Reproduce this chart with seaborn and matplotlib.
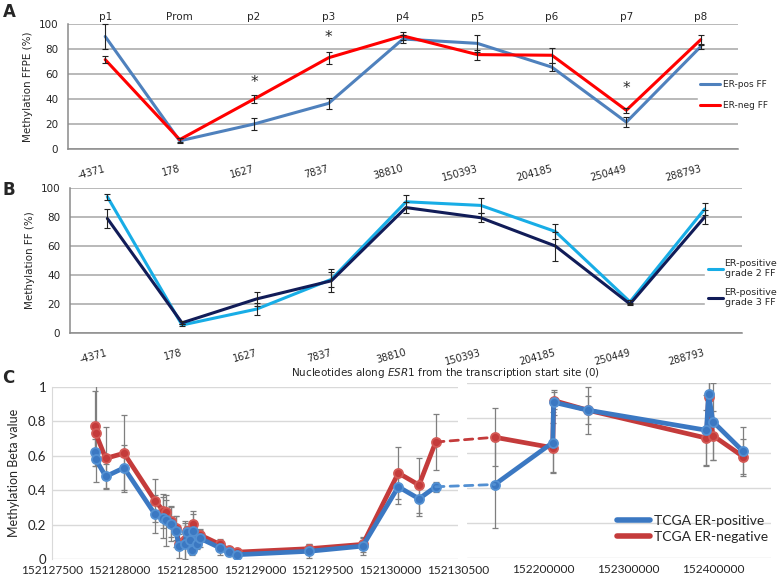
import numpy as np
import matplotlib
matplotlib.use("Agg")
import matplotlib.pyplot as plt
import seaborn as sns
from matplotlib.patches import ConnectionPatch
from matplotlib.lines import Line2D

# ---- panels A and B: CpG sites along ESR1
site_names = ["p1", "Prom", "p2", "p3", "p4", "p5", "p6", "p7", "p8"]
site_pos = ["-4371", "178", "1627", "7837", "38810", "150393", "204185", "250449", "288793"]

ffpe_pos = [90, 6.5, 20, 36.5, 88, 84.5, 65.5, 21.5, 82]
ffpe_pos_err = [10, 2, 5, 4.5, 3, 6.5, 3, 4, 2]
ffpe_neg = [71.5, 7.5, 40, 73, 90.5, 75.5, 75, 31, 87.5]
ffpe_neg_err = [3, 1.5, 3.5, 5, 3, 4, 6, 2, 4]
star_idx = [2, 3, 7]
star_y = [53, 89, 48]

grade2 = [94, 5.5, 16.5, 37, 90.5, 88, 70, 21.5, 85.5]
grade2_err = [2, 1, 4, 5, 4.5, 5, 5.5, 1.5, 4]
grade3 = [79, 7, 23.5, 36, 86.5, 79.5, 60, 20, 80]
grade3_err = [6.5, 1, 5, 8, 4, 3, 10, 1, 4.5]

# ---- panel C: TCGA probes (genomic coordinate)
c_left_x = [152127818, 152127823, 152127897, 152128032, 152128261, 152128322,
            152128342, 152128377, 152128416, 152128438, 152128483, 152128495,
            152128520, 152128532, 152128544, 152128574, 152128594, 152128741,
            152128810, 152128869, 152129401, 152129796, 152130059, 152130212,
            152130335]
c_left_pos = [0.62, 0.58, 0.48, 0.53, 0.26, 0.24, 0.225, 0.205, 0.16, 0.075,
              0.09, 0.155, 0.11, 0.055, 0.16, 0.09, 0.12, 0.065, 0.04, 0.025,
              0.045, 0.075, 0.42, 0.35, 0.42]
c_left_pos_err = [0.08, 0.04, 0.07, 0.13, 0.11, 0.12, 0.15, 0.1, 0.09, 0.07,
                  0.12, 0.03, 0.03, 0.03, 0.1, 0.03, 0.05, 0.04, 0.02, 0.02,
                  0.04, 0.05, 0.1, 0.1, 0.03]
c_left_neg = [0.775, 0.73, 0.585, 0.615, 0.34, 0.28, 0.275, 0.22, 0.18, 0.09,
              0.11, 0.16, 0.12, 0.07, 0.205, 0.1, 0.14, 0.085, 0.05, 0.04,
              0.06, 0.085, 0.5, 0.43, 0.68]
c_left_neg_err = [0.2, 0.28, 0.18, 0.225, 0.125, 0.1, 0.07, 0.09, 0.07, 0.03,
                  0.11, 0.03, 0.03, 0.03, 0.075, 0.03, 0.035, 0.03, 0.02, 0.02,
                  0.03, 0.045, 0.15, 0.16, 0.165]

c_right_x = [152142700, 152211000, 152212000, 152252000, 152392000, 152394500,
             152399500, 152435000]
c_right_pos = [0.42, 0.66, 0.89, 0.845, 0.73, 0.94, 0.78, 0.61]
c_right_pos_err = [0.25, 0.175, 0.07, 0.135, 0.2, 0.08, 0.22, 0.14]
c_right_neg = [0.69, 0.63, 0.9, 0.845, 0.685, 0.92, 0.7, 0.58]
c_right_neg_err = [0.165, 0.14, 0.05, 0.08, 0.16, 0.09, 0.14, 0.1]

left_ticks = [152127500, 152128000, 152128500, 152129000, 152129500, 152130000, 152130500]
right_ticks = [152200000, 152300000, 152400000]
beta_ticks = [0, 0.2, 0.4, 0.6, 0.8, 1]
beta_labels = ["0", "0.2", "0.4", "0.6", "0.8", "1"]

sns.set_style("white")
plt.rcParams["font.family"] = ["DejaVu Sans"]
plt.rcParams["mathtext.fontset"] = "custom"
plt.rcParams["mathtext.it"] = "DejaVu Sans:italic"

W, H = 778, 582
fig = plt.figure(figsize=(W / 100, H / 100), dpi=100)


def box(l, t, r, b):
    return [l / W, 1 - b / H, (r - l) / W, (b - t) / H]


AXIS = "#8a8a8a"
GRID = "#a6a6a6"


def site_axes(ax, ylabel):
    ax.set_xlim(-0.5, 8.5)
    ax.set_ylim(0, 100)
    ax.set_yticks(range(0, 101, 20))
    ax.yaxis.grid(True, color=GRID, lw=1.1)
    ax.set_axisbelow(True)
    for s in ["top", "right"]:
        ax.spines[s].set_visible(False)
    for s in ["left", "bottom"]:
        ax.spines[s].set_color(AXIS)
        ax.spines[s].set_linewidth(1.1)
    ax.set_xticks(range(9))
    ax.set_xticklabels(site_pos, rotation=15, ha="right", va="center",
                       rotation_mode="anchor", fontsize=7)
    ax.set_xticks(np.arange(-0.5, 9, 1), minor=True)
    ax.tick_params(axis="x", which="major", length=0, pad=14)
    ax.tick_params(axis="x", which="minor", length=4, color=AXIS, width=1)
    ax.tick_params(axis="y", length=4, color=AXIS, width=1, labelsize=7.5, pad=3)
    ax.set_ylabel(ylabel, fontsize=7.5, labelpad=4)
    ax.set_xlabel("")


idx = np.arange(len(site_names))

# ---------------- Panel A
axA = fig.add_axes(box(68, 24, 738, 149))
sns.lineplot(x=idx, y=ffpe_pos, ax=axA, color="#4f81bd", lw=2.2, label="ER-pos FF")
sns.lineplot(x=idx, y=ffpe_neg, ax=axA, color="#ff0000", lw=2.2, label="ER-neg FF")
axA.errorbar(idx, ffpe_pos, yerr=ffpe_pos_err, fmt="none", ecolor="#222222",
             elinewidth=0.8, capsize=2.5, capthick=0.8, clip_on=False)
axA.errorbar(idx, ffpe_neg, yerr=ffpe_neg_err, fmt="none", ecolor="#222222",
             elinewidth=0.8, capsize=2.5, capthick=0.8, clip_on=False)
for i, y in zip(star_idx, star_y):
    axA.text(i, y, "*", ha="center", va="center", fontsize=11)
for i, name in enumerate(site_names):
    axA.text(i, 102, name, ha="center", va="bottom", fontsize=7.5, clip_on=False)
site_axes(axA, "Methylation FFPE (%)")
axA.legend(loc="center left", bbox_to_anchor=(693 / W, 1 - 95 / H),
           bbox_transform=fig.transFigure, frameon=True, facecolor="white",
           edgecolor="white", framealpha=1, fontsize=6.5, handlelength=2.2,
           handletextpad=0.3, labelspacing=1.3, borderpad=0.3, fancybox=False)

# ---------------- Panel B
axB = fig.add_axes(box(70, 188, 742, 333))
sns.lineplot(x=idx, y=grade2, ax=axB, color="#18ade6", lw=2.2,
             label="ER-positive\ngrade 2 FF")
sns.lineplot(x=idx, y=grade3, ax=axB, color="#111c58", lw=2.2,
             label="ER-positive\ngrade 3 FF")
axB.errorbar(idx, grade2, yerr=grade2_err, fmt="none", ecolor="#222222",
             elinewidth=0.8, capsize=2.5, capthick=0.8)
axB.errorbar(idx, grade3, yerr=grade3_err, fmt="none", ecolor="#222222",
             elinewidth=0.8, capsize=2.5, capthick=0.8)
site_axes(axB, "Methylation FF (%)")
axB.legend(loc="center left", bbox_to_anchor=(700 / W, 1 - 283 / H),
           bbox_transform=fig.transFigure, frameon=True, facecolor="white",
           edgecolor="white", framealpha=1, fontsize=6.8, handlelength=1.6,
           handletextpad=0.2, labelspacing=1.0, borderpad=0.3, fancybox=False)
fig.text(446 / W, 1 - 373 / H,
         r"Nucleotides along $\it{ESR1}$ from the transcription start site (0)",
         ha="center", va="center", fontsize=7.5)

# ---------------- Panel C (broken x axis)
BLUE, BLUE_L = "#3b78c2", "#5390d2"
RED, RED_L = "#c43b3b", "#d35955"
CGRID = "#d9d9d9"
CFONT = "Lato"

axL = fig.add_axes(box(52, 387, 458, 559))
axR = fig.add_axes(box(467, 383, 771, 558))

for ax, xs, pos, pos_e, neg, neg_e in [
        (axL, c_left_x, c_left_pos, c_left_pos_err, c_left_neg, c_left_neg_err),
        (axR, c_right_x, c_right_pos, c_right_pos_err, c_right_neg, c_right_neg_err)]:
    ax.errorbar(xs, neg, yerr=neg_e, fmt="none", ecolor="#7f7f7f",
                elinewidth=0.9, capsize=2, capthick=0.9, zorder=2)
    ax.errorbar(xs, pos, yerr=pos_e, fmt="none", ecolor="#7f7f7f",
                elinewidth=0.9, capsize=2, capthick=0.9, zorder=2)
    sns.lineplot(x=xs, y=neg, ax=ax, sort=False, color=RED, lw=3.4, marker="o",
                 markersize=6.5, markerfacecolor=RED, markeredgecolor=RED_L,
                 markeredgewidth=1.3, zorder=3)
    sns.lineplot(x=xs, y=pos, ax=ax, sort=False, color=BLUE, lw=3.4, marker="o",
                 markersize=6.5, markerfacecolor=BLUE, markeredgecolor=BLUE_L,
                 markeredgewidth=1.3, zorder=4)
    ax.set_ylim(0, 1)
    ax.set_yticks(beta_ticks)
    ax.yaxis.grid(True, color=CGRID, lw=1)
    ax.set_axisbelow(True)
    for s in ["top", "right", "bottom"]:
        ax.spines[s].set_visible(False)
    ax.tick_params(axis="both", length=0, pad=4)
    ax.set_xlabel("")

axL.set_xlim(152127500, 152130500)
axL.set_xticks(left_ticks)
axL.set_xticklabels([str(t) for t in left_ticks], family=CFONT, fontsize=8.6)
axL.spines["left"].set_color(CGRID)
axL.set_yticklabels(beta_labels, family=CFONT, fontsize=9.5)
axL.set_ylabel("Methylation Beta value", family=CFONT, fontsize=9, labelpad=6)
axR.set_xlim(152110000, 152468000)
axR.set_xticks(right_ticks)
axR.set_xticklabels([str(t) for t in right_ticks], family=CFONT, fontsize=8.6)
axR.spines["left"].set_visible(False)
axR.set_yticklabels([])

# dashed links across the break
for lv, rv, col in [(c_left_neg[-1], c_right_neg[0], RED),
                    (c_left_pos[-1], c_right_pos[0], BLUE_L)]:
    con = ConnectionPatch(xyA=(c_left_x[-1], lv), coordsA=axL.transData,
                          xyB=(c_right_x[0], rv), coordsB=axR.transData,
                          color=col, lw=2, ls=(0, (3, 2.2)), zorder=1)
    fig.add_artist(con)

c_handles = [Line2D([], [], color=BLUE, lw=4), Line2D([], [], color=RED, lw=4)]
axR.legend(c_handles, ["TCGA ER-positive", "TCGA ER-negative"],
           loc="upper left", bbox_to_anchor=(607 / W, 1 - 505 / H),
           bbox_transform=fig.transFigure, frameon=False,
           prop={"family": CFONT, "size": 10},
           handlelength=2.4, handletextpad=0.3, labelspacing=0.3,
           borderpad=0.2)

# panel letters
for lbl, x, y in [("A", 9, 12), ("B", 9, 190), ("C", 8, 378)]:
    fig.text(x / W, 1 - y / H, lbl, fontsize=12, fontweight="bold",
             ha="center", va="center")

fig.savefig("out.png", dpi=100)
